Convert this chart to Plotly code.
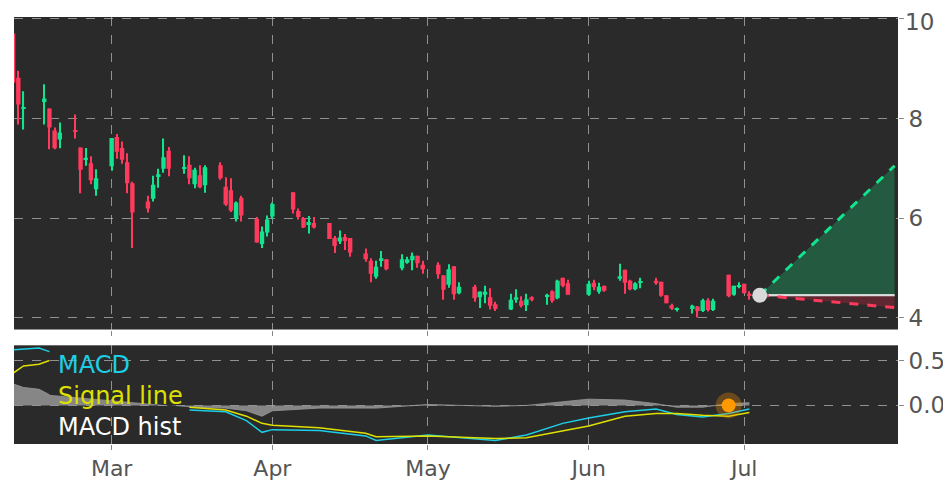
import plotly.graph_objects as go
from plotly.subplots import make_subplots

# daily candles
dates = ['2021-02-10', '2021-02-11', '2021-02-12', '2021-02-16', '2021-02-17', '2021-02-18', '2021-02-19',
         '2021-02-22', '2021-02-23', '2021-02-24', '2021-02-25', '2021-02-26',
         '2021-03-01', '2021-03-02', '2021-03-03', '2021-03-04', '2021-03-05',
         '2021-03-08', '2021-03-09', '2021-03-10', '2021-03-11', '2021-03-12',
         '2021-03-15', '2021-03-16', '2021-03-17', '2021-03-18', '2021-03-19',
         '2021-03-22', '2021-03-23', '2021-03-24', '2021-03-25', '2021-03-26',
         '2021-03-29', '2021-03-30', '2021-03-31', '2021-04-01',
         '2021-04-05', '2021-04-06', '2021-04-07', '2021-04-08', '2021-04-09',
         '2021-04-12', '2021-04-13', '2021-04-14', '2021-04-15', '2021-04-16',
         '2021-04-19', '2021-04-20', '2021-04-21', '2021-04-22', '2021-04-23',
         '2021-04-26', '2021-04-27', '2021-04-28', '2021-04-29', '2021-04-30',
         '2021-05-03', '2021-05-04', '2021-05-05', '2021-05-06', '2021-05-07',
         '2021-05-10', '2021-05-11', '2021-05-12', '2021-05-13', '2021-05-14',
         '2021-05-17', '2021-05-18', '2021-05-19', '2021-05-20', '2021-05-21',
         '2021-05-24', '2021-05-25', '2021-05-26', '2021-05-27', '2021-05-28',
         '2021-06-01', '2021-06-02', '2021-06-03', '2021-06-04',
         '2021-06-07', '2021-06-08', '2021-06-09', '2021-06-10', '2021-06-11',
         '2021-06-14', '2021-06-15', '2021-06-16', '2021-06-17', '2021-06-18',
         '2021-06-21', '2021-06-22', '2021-06-23', '2021-06-24', '2021-06-25',
         '2021-06-28', '2021-06-29', '2021-06-30', '2021-07-01', '2021-07-02']
opens = [9.71, 8.82, 8.20, 8.33, 8.20, 7.76, 7.58,
         7.76, 7.42, 7.18, 7.10, 6.58,
         7.04, 7.63, 7.41, 7.12, 6.70,
         6.33, 6.39, 6.84, 6.99, 7.35,
         6.99, 7.07, 6.68, 6.86, 6.66,
         7.06, 6.63, 6.56, 5.99, 6.41,
         5.98, 5.48, 5.71, 6.03,
         6.52, 6.14, 6.00, 5.88, 5.90,
         5.90, 5.60, 5.53, 5.62, 5.60,
         5.29, 5.14, 4.82, 5.15, 5.17,
         4.99, 5.10, 5.15, 5.24, 5.06,
         5.06, 4.85, 4.66, 5.03, 4.49,
         4.62, 4.41, 4.46, 4.41, 4.27,
         4.16, 4.36, 4.34, 4.25, 4.41,
         4.43, 4.53, 4.39, 4.80, 4.69,
         4.46, 4.70, 4.52, 4.64,
         4.78, 4.96, 4.74, 4.57, 4.70,
         4.74, 4.72, 4.45, 4.25, 4.16,
         4.17, 4.22, 4.13, 4.35, 4.15,
         4.86, 4.46, 4.62, 4.68, 4.46]
closes = [8.72, 8.28, 8.22, 8.40, 7.82, 7.40, 7.72,
          7.74, 6.97, 7.20, 6.76, 6.80,
          7.61, 7.33, 7.17, 6.70, 6.11,
          6.19, 6.67, 6.88, 7.22, 6.99,
          7.02, 6.80, 6.97, 6.62, 7.02,
          6.80, 6.27, 6.15, 6.31, 6.05,
          5.51, 5.73, 5.97, 6.28,
          6.17, 6.02, 5.81, 5.92, 5.81,
          5.58, 5.44, 5.61, 5.54, 5.31,
          5.17, 4.88, 5.02, 5.19, 4.97,
          5.17, 5.17, 5.24, 5.09, 4.97,
          4.87, 4.56, 4.97, 4.47, 4.62,
          4.39, 4.52, 4.52, 4.24, 4.17,
          4.36, 4.41, 4.24, 4.37, 4.36,
          4.45, 4.34, 4.74, 4.64, 4.46,
          4.68, 4.61, 4.62, 4.54,
          4.83, 4.70, 4.57, 4.69, 4.72,
          4.69, 4.44, 4.29, 4.18, 4.16,
          4.24, 4.13, 4.35, 4.15, 4.34,
          4.43, 4.64, 4.63, 4.49, 4.45]
highs = [9.71, 8.96, 8.55, 8.69, 8.20, 7.82, 7.92,
         8.08, 7.42, 7.41, 7.24, 6.98,
         7.61, 7.69, 7.54, 7.30, 6.73,
         6.45, 6.85, 6.99, 7.60, 7.43,
         7.26, 7.24, 7.01, 7.06, 7.06,
         7.12, 6.82, 6.80, 6.33, 6.45,
         6.02, 5.83, 6.05, 6.31,
         6.52, 6.19, 6.02, 6.04, 6.02,
         5.90, 5.64, 5.75, 5.68, 5.60,
         5.39, 5.19, 5.14, 5.34, 5.17,
         5.27, 5.22, 5.31, 5.24, 5.14,
         5.11, 4.85, 5.07, 5.03, 4.71,
         4.66, 4.53, 4.64, 4.59, 4.32,
         4.48, 4.57, 4.43, 4.48, 4.43,
         4.48, 4.55, 4.76, 4.80, 4.76,
         4.74, 4.76, 4.70, 4.64,
         5.08, 4.96, 4.76, 4.71, 4.80,
         4.80, 4.72, 4.45, 4.28, 4.20,
         4.26, 4.23, 4.38, 4.39, 4.38,
         4.86, 4.64, 4.71, 4.68, 4.53]
lows = [8.72, 7.88, 7.78, 7.88, 7.38, 7.38, 7.40,
        7.60, 6.50, 7.05, 6.68, 6.45,
        6.95, 7.19, 7.09, 6.50, 5.40,
        6.11, 6.33, 6.61, 6.91, 6.84,
        6.89, 6.68, 6.60, 6.60, 6.51,
        6.77, 6.24, 6.12, 5.93, 5.93,
        5.51, 5.40, 5.63, 5.98,
        6.09, 5.97, 5.80, 5.69, 5.79,
        5.58, 5.30, 5.48, 5.36, 5.22,
        5.12, 4.71, 4.78, 5.02, 4.95,
        4.95, 5.08, 4.95, 5.00, 4.88,
        4.78, 4.36, 4.60, 4.36, 4.47,
        4.32, 4.19, 4.29, 4.16, 4.13,
        4.15, 4.30, 4.20, 4.13, 4.33,
        4.26, 4.30, 4.37, 4.61, 4.46,
        4.44, 4.55, 4.48, 4.52,
        4.74, 4.48, 4.55, 4.55, 4.59,
        4.66, 4.42, 4.29, 4.15, 4.12,
        4.08, 4.00, 4.11, 4.12, 4.13,
        4.41, 4.44, 4.59, 4.49, 4.36]

# forecast cone
fc_dates = ['2021-07-04', '2021-07-30']
fc_mid = [4.45, 4.45]
fc_high = [4.45, 7.05]
fc_low = [4.45, 4.20]

# MACD panel
macd_dates = ['2021-02-10', '2021-02-12', '2021-02-15', '2021-02-17', '2021-02-18',
              '2021-03-16', '2021-03-23', '2021-03-27', '2021-03-30', '2021-04-01', '2021-04-10',
              '2021-04-19', '2021-04-21', '2021-05-01', '2021-05-14', '2021-05-20', '2021-05-27',
              '2021-06-01', '2021-06-08', '2021-06-14', '2021-06-18', '2021-06-23', '2021-06-28',
              '2021-07-02']
macd = [0.62, 0.63, 0.64, 0.60, None,
        -0.05, -0.07, -0.17, -0.30, -0.27, -0.28,
        -0.34, -0.39, -0.33, -0.39, -0.33, -0.20,
        -0.14, -0.07, -0.04, -0.10, -0.13, -0.09,
        -0.04]
signal = [0.36, 0.44, 0.46, 0.50, None,
          -0.02, -0.05, -0.12, -0.20, -0.22, -0.25,
          -0.31, -0.35, -0.34, -0.37, -0.36, -0.28,
          -0.23, -0.12, -0.09, -0.09, -0.11, -0.12,
          -0.08]
hist = [0.24, 0.20, 0.18, 0.12, None,
        -0.02, -0.03, -0.06, -0.12, -0.06, -0.03,
        -0.03, -0.03, 0.01, -0.01, 0.0, 0.04,
        0.07, 0.06, 0.02, -0.02, -0.02, 0.02,
        0.03]

GREEN = '#12e38f'
RED = '#ff3a5c'
BG = '#2a2a2a'
TICK_COLOR = '#555'
DAY = 86400000
GRID = dict(showgrid=True, gridcolor='rgba(190,190,190,0.7)', griddash='dash', gridwidth=1)

fig = make_subplots(rows=2, cols=1, shared_xaxes=True, vertical_spacing=0.037,
                    row_heights=[0.76, 0.24])

# candles drawn as bars (wick + body) so the body width can be set
colors = [GREEN if c >= o else RED for o, c in zip(opens, closes)]
fig.add_trace(go.Bar(x=dates, base=lows, y=[h - l for h, l in zip(highs, lows)],
                     width=0.22 * DAY, marker=dict(color=colors, line=dict(width=0)),
                     showlegend=False), row=1, col=1)
fig.add_trace(go.Bar(x=dates, base=[min(o, c) for o, c in zip(opens, closes)],
                     y=[max(abs(c - o), 0.03) for o, c in zip(opens, closes)],
                     width=0.85 * DAY, marker=dict(color=colors, line=dict(width=0)),
                     showlegend=False), row=1, col=1)

# cone: green above, red below
fig.add_trace(go.Scatter(x=fc_dates, y=fc_mid, mode='lines', line=dict(color='#dddddd', width=2),
                         showlegend=False), row=1, col=1)
fig.add_trace(go.Scatter(x=fc_dates, y=fc_high, mode='lines', fill='tonexty',
                         fillcolor='rgba(36,90,64,1)', line=dict(color=GREEN, width=3, dash='dash'),
                         showlegend=False), row=1, col=1)
fig.add_trace(go.Scatter(x=fc_dates, y=fc_mid, mode='lines', line=dict(color='#dddddd', width=2),
                         showlegend=False), row=1, col=1)
fig.add_trace(go.Scatter(x=fc_dates, y=fc_low, mode='lines', fill='tonexty',
                         fillcolor='rgba(95,40,48,1)', line=dict(color=RED, width=3, dash='dash'),
                         showlegend=False), row=1, col=1)
fig.add_trace(go.Scatter(x=fc_dates[:1], y=fc_mid[:1], mode='markers',
                         marker=dict(color='#d9d9d9', size=15), showlegend=False), row=1, col=1)

# MACD
fig.add_trace(go.Scatter(x=macd_dates, y=hist, mode='lines', fill='tozeroy',
                         fillcolor='rgba(150,150,150,0.85)', line=dict(color='rgba(150,150,150,0.85)', width=1),
                         showlegend=False), row=2, col=1)
fig.add_trace(go.Scatter(x=macd_dates, y=macd, mode='lines', line=dict(color='#1ccfe6', width=1.5),
                         showlegend=False), row=2, col=1)
fig.add_trace(go.Scatter(x=macd_dates, y=signal, mode='lines', line=dict(color='#dde000', width=1.5),
                         showlegend=False), row=2, col=1)
fig.add_trace(go.Scatter(x=['2021-06-28'], y=[0.0], mode='markers',
                         marker=dict(color='rgba(255,150,0,0.3)', size=26), showlegend=False), row=2, col=1)
fig.add_trace(go.Scatter(x=['2021-06-28'], y=[0.0], mode='markers',
                         marker=dict(color='#ff9900', size=14), showlegend=False), row=2, col=1)

for text, color, yy in [('MACD', '#1ccfe6', 0.185), ('Signal line', '#dde000', 0.112),
                        ('MACD hist', '#ffffff', 0.040)]:
    fig.add_annotation(text=text, xref='paper', yref='paper', x=0.047, y=yy, xanchor='left',
                       yanchor='middle', showarrow=False, font=dict(color=color, size=24))

# top price label would be clipped by plotly, so place it by hand
fig.add_annotation(text='10', xref='paper', yref='y', x=1.0, y=10, xanchor='left', xshift=5,
                   yshift=-3, yanchor='middle', showarrow=False, font=dict(color=TICK_COLOR, size=23))

xr = ['2021-02-10 04:00', '2021-07-30 16:00']
fig.update_xaxes(range=xr, dtick='M1', tickformat='%b', automargin=False,
                 ticks='outside', ticklen=5, tickcolor='#888', showline=False, **GRID)
fig.update_xaxes(showticklabels=False, row=1, col=1)
fig.update_xaxes(tickfont=dict(size=22, color=TICK_COLOR), row=2, col=1)
fig.update_yaxes(side='right', tickfont=dict(size=23, color=TICK_COLOR), ticks='outside', ticklen=5,
                 tickcolor='#888', zeroline=False, automargin=False, **GRID)
fig.update_yaxes(range=[3.76, 10.04], tickvals=[4, 6, 8, 10], ticktext=['4', '6', '8', ''], row=1, col=1)
fig.update_yaxes(range=[-0.43, 0.67], tickvals=[0.0, 0.5], tickformat='.1f', row=2, col=1)

# page body has an 8px margin, so the figure is sized to fit inside it
fig.update_layout(
    width=943, height=481,
    margin=dict(l=6, r=53, t=9, b=45),
    paper_bgcolor='white',
    plot_bgcolor=BG,
    barmode='overlay',
    font=dict(family='DejaVu Sans'),
)

fig.write_html("out.html")
